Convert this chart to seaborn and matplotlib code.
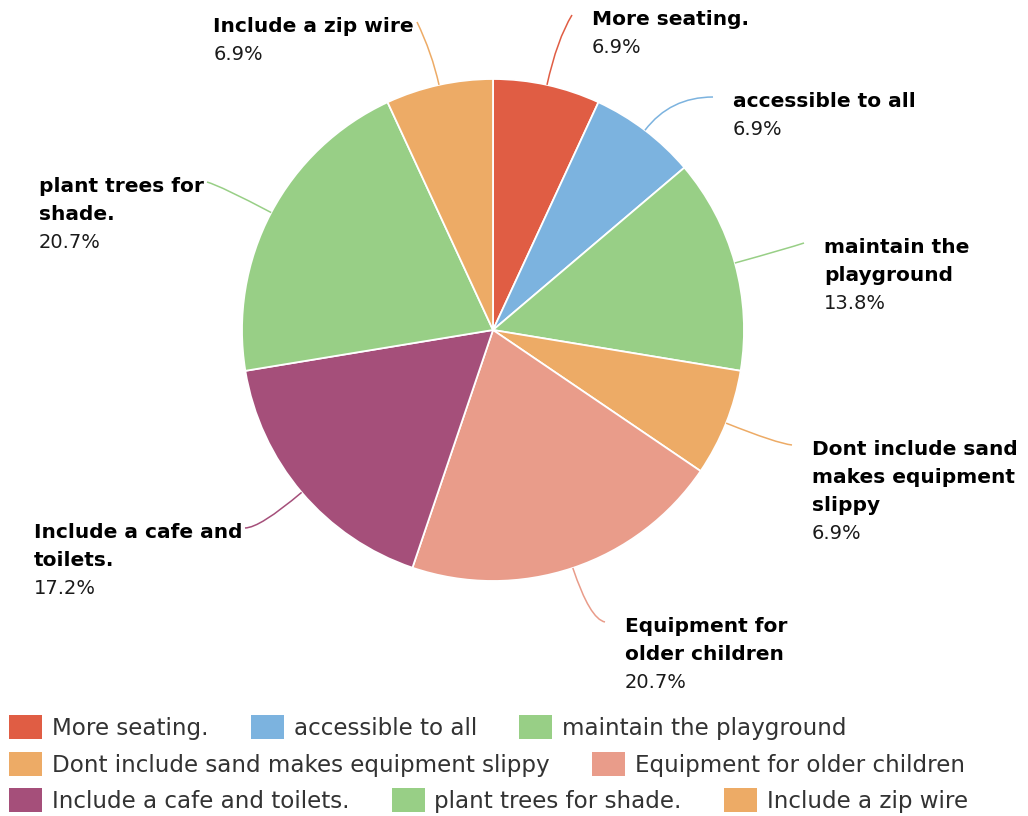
import textwrap
import numpy as np
import matplotlib
matplotlib.use("Agg")
import matplotlib.pyplot as plt
import seaborn as sns
from matplotlib.patches import Rectangle, PathPatch
from matplotlib.path import Path

# ---------------- data ----------------
categories = [
    "More seating.",
    "accessible to all",
    "maintain the playground",
    "Dont include sand makes equipment slippy",
    "Equipment for older children",
    "Include a cafe and toilets.",
    "plant trees for shade.",
    "Include a zip wire",
]
percentages = [6.9, 6.9, 13.8, 6.9, 20.7, 17.2, 20.7, 6.9]
colors = ["#E05D44", "#7CB3DF", "#98CF86", "#EDAB66",
          "#E99C8A", "#A54F7A", "#98CF86", "#EDAB66"]

# ---------------- layout (pixels) ----------------
W, H = 1028, 816
CX, CY, R = 493, 330, 251
# end points of the label connectors (pixel coords, y from top)
connector_ends = [(572, 15), (713, 97), (804, 243), (792, 445),
                  (605, 622), (245, 528), (207, 182), (417, 22)]
LINE_H = 28
TITLE_SIZE = 14.5
PCT_SIZE = 14
LEG_SIZE = 16.6

sns.set_theme(style="white")
plt.rcParams["font.family"] = ["DejaVu Sans"]

fig = plt.figure(figsize=(W / 100, H / 100), dpi=100)
fig.patch.set_facecolor("white")
ax = fig.add_axes([(CX - R) / W, (H - CY - R) / H, 2 * R / W, 2 * R / H])
wedges, _ = ax.pie(percentages, colors=colors, startangle=90, counterclock=False,
                   radius=1, wedgeprops=dict(edgecolor="white", linewidth=1.3))
ax.set_xlim(-1, 1)
ax.set_ylim(-1, 1)
ax.set_aspect("equal")
ax.axis("off")


def to_data(px, py):
    return (px - CX) / R, (CY - py) / R


def fig_xy(px, py):
    return px / W, (H - py) / H


renderer = fig.canvas.get_renderer()
total = sum(percentages)
cum = 0.0
for i, (cat, val, col) in enumerate(zip(categories, percentages, colors)):
    theta = np.deg2rad(90 - 360 * (cum + val / 2) / total)
    cum += val
    c, s = np.cos(theta), np.sin(theta)
    ex, ey = connector_ends[i]
    P2 = np.array(to_data(ex, ey))
    right = ex > CX
    # control point along the radial line
    r_y = P2[1] / s if abs(s) > 1e-6 else 10
    lim_x = (P2[0] - 15 / R) if right else (P2[0] + 15 / R)
    r_x = lim_x / c if abs(c) > 1e-6 else 10
    cands = [r for r in (r_y, r_x) if r > 1.02]
    rc = min(cands) if cands else 1.15
    P0 = np.array([c, s]) * 1.0
    P1 = np.array([c, s]) * rc
    path = Path([P0, P1, P2], [Path.MOVETO, Path.CURVE3, Path.CURVE3])
    ax.add_patch(PathPatch(path, facecolor="none", edgecolor=col, lw=1.1,
                           clip_on=False))

    # label text
    lines = textwrap.wrap(cat, 18)
    pct = f"{val:.1f}%"
    y0 = ey + 5
    if right:
        xl = ex + 20
    else:
        widths = []
        for ln in lines:
            t = fig.text(0, 0, ln, fontsize=TITLE_SIZE, fontweight="bold")
            widths.append(t.get_window_extent(renderer).width)
            t.remove()
        xl = ex - 3 - max(widths)
    for k, ln in enumerate(lines):
        fig.text(*fig_xy(xl, y0 + k * LINE_H + 5), ln, fontsize=TITLE_SIZE,
                 fontweight="bold", color="#000000", ha="left", va="baseline")
    fig.text(*fig_xy(xl, y0 + len(lines) * LINE_H + 5), pct, fontsize=PCT_SIZE,
             color="#1a1a1a", ha="left", va="baseline")

# ---------------- legend (flow layout) ----------------
SQ_W, SQ_H = 33, 24
x, row = 9, 0
row_y = [727, 764, 800]
MAX_X = 1020
for cat, col in zip(categories, colors):
    t = fig.text(0, 0, cat, fontsize=LEG_SIZE)
    w = t.get_window_extent(renderer).width
    t.remove()
    if x + 43 + w > MAX_X:
        row += 1
        x = 9
    yc = row_y[row] if row < len(row_y) else row_y[-1] + 37 * (row - 2)
    fx, fy = fig_xy(x, yc + SQ_H / 2)
    fig.add_artist(Rectangle((fx, fy), SQ_W / W, SQ_H / H, transform=fig.transFigure,
                             facecolor=col, edgecolor="none"))
    fig.text(*fig_xy(x + 43, yc + 8), cat, fontsize=LEG_SIZE, color="#333333",
             ha="left", va="baseline")
    x = x + 43 + w + 42

fig.savefig("out.png", dpi=100, facecolor="white")
